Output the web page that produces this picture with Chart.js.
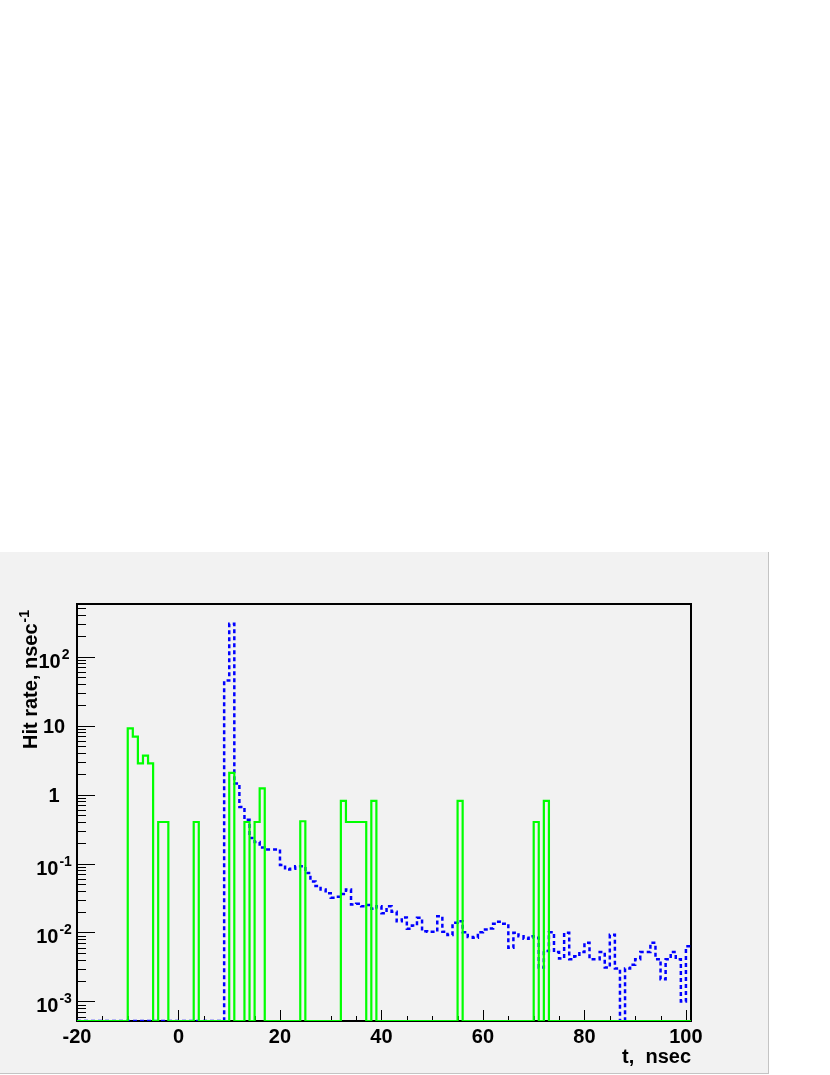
<!DOCTYPE html>
<html>
<head>
<meta charset="utf-8">
<script src="https://cdn.jsdelivr.net/npm/chart.js@4.4.1/dist/chart.umd.min.js"></script>
<style>
  html, body { margin: 0; padding: 0; background: #ffffff; }
  #pad {
    position: absolute; left: 0; top: 552px;
    width: 768px; height: 521px;
    background: #f2f2f2;
    border-right: 1px solid #c4c4c4;
    border-bottom: 1px solid #c4c4c4;
  }
  #pad canvas { display: block; }
</style>
</head>
<body>
<div id="pad"><canvas id="hitChart" width="768" height="521"></canvas></div>
<script>
// histogram range, 1 ns bins
const T_MIN = -20;
const T_MAX = 101;
const Y_MIN = 5.2e-4;
const Y_MAX = 580;

// green histogram: non-empty bins (left edge, ns) and rates
const greenBins = [-10, -9, -8, -7, -6, -4, -3, 3, 10, 13, 15, 16, 24, 32, 33, 34, 35, 36, 38, 55, 70, 72];
const greenRate = [9.1, 6.9, 2.84, 3.67, 2.84, 0.4, 0.4, 0.4, 2.06, 0.4, 0.4, 1.23, 0.41, 0.81, 0.4, 0.4, 0.4, 0.4, 0.81, 0.81, 0.4, 0.81];

// blue histogram: rates for bins 9 .. 100 (0 = empty)
const blueFirstBin = 9;
const blueRate = [
  45, 300, 1.45, 0.66, 0.43, 0.235, 0.205, 0.17, 0.16, 0.16,          // 9-18
  0.16, 0.095, 0.082, 0.084, 0.091, 0.091, 0.073, 0.055, 0.047, 0.042, // 19-28
  0.037, 0.032, 0.033, 0.036, 0.042, 0.0255, 0.026, 0.024, 0.025, 0.022, // 29-38
  0.024, 0.019, 0.024, 0.02, 0.0145, 0.0165, 0.0113, 0.0126, 0.0163, 0.0104, // 39-48
  0.0102, 0.0102, 0.0172, 0.0102, 0.0092, 0.0138, 0.0146, 0.0101, 0.0086, 0.0084, // 49-58
  0.0101, 0.011, 0.0114, 0.0134, 0.0143, 0.0134, 0.006, 0.0099, 0.0088, 0.0081, // 59-68
  0.0088, 0.0084, 0.0031, 0.0054, 0.0101, 0.0052, 0.0042, 0.0099, 0.0041, 0.0045, // 69-78
  0.0052, 0.0071, 0.0041, 0.0041, 0.0052, 0.0031, 0.0093, 0.003, 0, 0.003, // 79-88
  0.0034, 0.0041, 0.0052, 0.0052, 0.0071, 0.0041, 0.0021, 0.0041, 0.0052, 0.0041, // 89-98
  0.001, 0.0063                                                        // 99-100
];
const blueBins = blueRate.map((v, i) => blueFirstBin + i);

// axis labels
const xTickLabels = [-20, 0, 20, 40, 60, 80, 100];
const yTickValues = [1e-3, 1e-2, 1e-1, 1, 10, 100];
const yTickBase = ['10', '10', '10', '1', '10', '10'];
const yTickExp = ['-3', '-2', '-1', '', '', '2'];

// empty bins sit on the bottom of the frame, like ROOT draws them
function histPoints(bins, rates) {
  const pts = [];
  for (let t = T_MIN; t < T_MAX; t++) {
    const i = bins.indexOf(t);
    const v = i >= 0 ? rates[i] : 0;
    pts.push({ x: t, y: v > 0 ? v : Y_MIN });
  }
  pts.push({ x: T_MAX, y: pts[pts.length - 1].y });
  return pts;
}

const BOLD = '"Liberation Sans", Arial, Helvetica, sans-serif';

const rootAxes = {
  id: 'rootAxes',
  beforeDatasetsDraw(chart) {
    const { ctx, chartArea: a } = chart;
    const x = chart.scales.x, y = chart.scales.y;
    ctx.save();
    ctx.strokeStyle = '#000';
    ctx.fillStyle = '#000';

    // minor x ticks every 5 ns, major at labels
    ctx.lineWidth = 1;
    for (let t = -20; t <= 100; t += 5) {
      const px = Math.round(x.getPixelForValue(t)) + 0.5;
      const len = xTickLabels.includes(t) ? 11 : 5;
      ctx.beginPath();
      ctx.moveTo(px, a.bottom);
      ctx.lineTo(px, a.bottom - len);
      ctx.stroke();
    }

    // y ticks: decades long, 2..9 short
    for (let d = -4; d <= 2; d++) {
      for (let k = 1; k <= 9; k++) {
        const v = k * Math.pow(10, d);
        if (v < Y_MIN || v > Y_MAX) continue;
        const py = Math.round(y.getPixelForValue(v)) + 0.5;
        ctx.beginPath();
        ctx.moveTo(a.left, py);
        ctx.lineTo(a.left + (k === 1 ? 18 : 9), py);
        ctx.stroke();
      }
    }

    // frame
    ctx.lineWidth = 2;
    ctx.strokeRect(a.left, a.top, a.right - a.left, a.bottom - a.top);

    // x labels
    ctx.font = 'bold 20px ' + BOLD;
    ctx.textAlign = 'center';
    ctx.textBaseline = 'alphabetic';
    xTickLabels.forEach(t => {
      ctx.fillText(String(t), x.getPixelForValue(t), a.bottom + 22);
    });

    // y labels with superscript exponents
    yTickValues.forEach((v, i) => {
      const py = y.getPixelForValue(v);
      const base = yTickBase[i], exp = yTickExp[i];
      ctx.font = 'bold 20px ' + BOLD;
      const wb = ctx.measureText(base).width;
      ctx.font = 'bold 14px ' + BOLD;
      const we = exp ? ctx.measureText(exp).width + 1 : 0;
      const x0 = 54 - (wb + we) / 2;
      ctx.textAlign = 'left';
      ctx.font = 'bold 20px ' + BOLD;
      ctx.fillText(base, x0, py + (exp ? 11 : 7));
      if (exp) {
        ctx.font = 'bold 14px ' + BOLD;
        ctx.fillText(exp, x0 + wb + 1, py + 2);
      }
    });

    // y title
    ctx.save();
    ctx.translate(37, a.top + 6);
    ctx.rotate(-Math.PI / 2);
    ctx.font = 'bold 20px ' + BOLD;
    const titleBase = 'Hit rate, nsec';
    const wt = ctx.measureText(titleBase).width;
    ctx.font = 'bold 14px ' + BOLD;
    const wexp = ctx.measureText('-1').width;
    ctx.textAlign = 'left';
    ctx.font = 'bold 20px ' + BOLD;
    ctx.fillText(titleBase, -(wt + wexp + 1), 0);
    ctx.font = 'bold 14px ' + BOLD;
    ctx.fillText('-1', -wexp, -8);
    ctx.restore();

    // x title
    ctx.font = 'bold 20px ' + BOLD;
    ctx.textAlign = 'right';
    ctx.fillText('t,  nsec', a.right, a.bottom + 42);

    ctx.restore();
  }
};

const ctx = document.getElementById('hitChart').getContext('2d');
const hitChart = new Chart(ctx, {
  type: 'line',
  data: {
    datasets: [
      {
        label: 'green',
        data: histPoints(greenBins, greenRate),
        borderColor: '#00ff00',
        borderWidth: 2.2,
        stepped: true,
        pointRadius: 0,
        fill: false
      },
      {
        label: 'blue',
        data: histPoints(blueBins, blueRate),
        borderColor: '#0000ff',
        borderWidth: 2.5,
        borderDash: [4, 3],
        stepped: true,
        pointRadius: 0,
        fill: false
      }
    ]
  },
  options: {
    responsive: false,
    animation: false,
    events: [],
    layout: { padding: { left: 77, top: 52, right: 77, bottom: 52 } },
    plugins: {
      legend: { display: false },
      tooltip: { enabled: false }
    },
    scales: {
      x: { type: 'linear', min: T_MIN, max: T_MAX, display: false },
      y: { type: 'logarithmic', min: Y_MIN, max: Y_MAX, display: false }
    }
  },
  plugins: [rootAxes]
});
</script>
</body>
</html>
